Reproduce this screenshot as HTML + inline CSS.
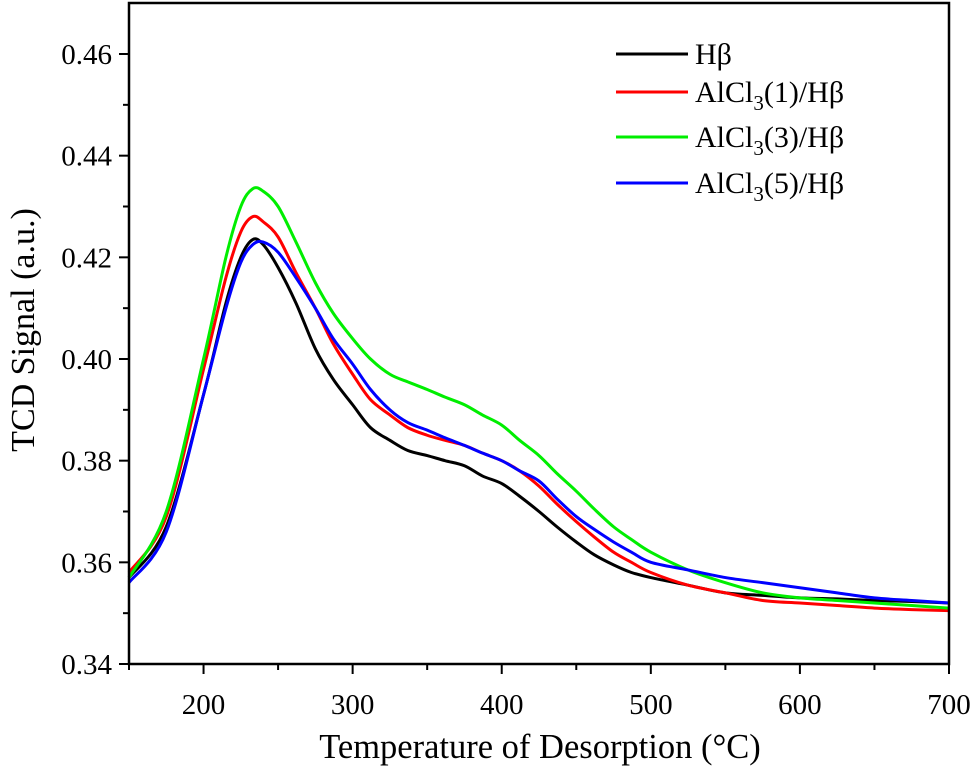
<!DOCTYPE html>
<html><head><meta charset="utf-8"><style>
body{margin:0;background:#fff;}
svg text{font-family:"Liberation Serif",serif;fill:#000;}
</style></head><body>
<svg id="c" width="975" height="773"></svg>
<script>
const temps=[150,175,200,215,225,233,240,250,262,275,287,300,312,325,337,350,362,375,387,400,412,425,437,450,462,475,487,500,525,550,575,600,625,650,675,700];
const hb=[0.357,0.367,0.393,0.411,0.420,0.4235,0.4225,0.418,0.411,0.402,0.396,0.391,0.3865,0.384,0.382,0.381,0.380,0.379,0.377,0.3755,0.373,0.370,0.367,0.364,0.3615,0.3595,0.358,0.357,0.3555,0.354,0.3535,0.353,0.3528,0.3525,0.3523,0.352];
const al1=[0.358,0.369,0.398,0.416,0.425,0.428,0.427,0.424,0.417,0.41,0.403,0.397,0.392,0.389,0.3865,0.385,0.384,0.383,0.3815,0.380,0.378,0.375,0.3715,0.368,0.365,0.362,0.360,0.358,0.3555,0.354,0.3525,0.352,0.3515,0.351,0.3507,0.3505];
const al3=[0.357,0.370,0.400,0.420,0.430,0.4335,0.433,0.430,0.423,0.415,0.409,0.404,0.4,0.397,0.3955,0.394,0.3925,0.391,0.389,0.387,0.384,0.381,0.3775,0.374,0.3705,0.367,0.3645,0.362,0.3585,0.356,0.354,0.353,0.3525,0.352,0.3515,0.351];
const al5=[0.356,0.366,0.393,0.410,0.419,0.4225,0.423,0.421,0.416,0.410,0.404,0.399,0.394,0.390,0.3875,0.386,0.3845,0.383,0.3815,0.380,0.378,0.376,0.3725,0.369,0.3665,0.364,0.362,0.360,0.3585,0.357,0.356,0.355,0.354,0.353,0.3525,0.352];
const xTicks=[200,300,400,500,600,700];
const yTicks=[0.34,0.36,0.38,0.40,0.42,0.44,0.46];
const names=["Hβ","AlCl3(1)/Hβ","AlCl3(3)/Hβ","AlCl3(5)/Hβ"];
const NS="http://www.w3.org/2000/svg";
const svg=document.getElementById('c');
const X0=129,X1=949,Y0=664,Y1=54;
const xs=v=>X0+(v-150)/(700-150)*(X1-X0);
const ys=v=>Y0-(v-0.34)/(0.46-0.34)*(Y0-Y1);
function mk(t,a){const e=document.createElementNS(NS,t);for(const k in a)e.setAttribute(k,a[k]);svg.appendChild(e);return e;}
function path(xv,yv){let p=xv.map((x,i)=>[xs(x),ys(yv[i])]);let d="M"+p[0][0]+","+p[0][1];
for(let i=0;i<p.length-1;i++){const a=p[Math.max(0,i-1)],b=p[i],c=p[i+1],e=p[Math.min(p.length-1,i+2)];
d+=` C${b[0]+(c[0]-a[0])/6},${b[1]+(c[1]-a[1])/6} ${c[0]-(e[0]-b[0])/6},${c[1]-(e[1]-b[1])/6} ${c[0]},${c[1]}`;}return d;}
const series=[[hb,"#000000"],[al1,"#ff0000"],[al3,"#00ee00"],[al5,"#0000ff"]];
const sn=["series-hbeta","series-alcl3-1","series-alcl3-3","series-alcl3-5"];
series.forEach((s,i)=>{const e=mk('path',{d:path(temps,s[0]),fill:'none',stroke:s[1],'stroke-width':3});

});
const f=mk('rect',{x:X0,y:3,width:X1-X0,height:Y0-3,fill:'none',stroke:'#000','stroke-width':2.5});


for(let v=150;v<=700;v+=50){const x=xs(v);const maj=v%100==0;mk('line',{x1:x,x2:x,y1:Y0,y2:Y0+(maj?10:6),stroke:'#000','stroke-width':2});}
xTicks.forEach(v=>{const t=mk('text',{x:xs(v),y:Y0+50,'font-size':29,'text-anchor':'middle'});t.textContent=v;

});
for(let k=0;k<=12;k++){const v=0.34+k*0.01;const y=ys(v);mk('line',{x1:X0,x2:X0-(k%2==0?10:6),y1:y,y2:y,stroke:'#000','stroke-width':2});}
yTicks.forEach(v=>{const t=mk('text',{x:X0-17,y:ys(v)+10,'font-size':29,'text-anchor':'end'});t.textContent=v.toFixed(2);

});
const xt=mk('text',{x:540,y:758,'font-size':34.5,'text-anchor':'middle'});xt.textContent="Temperature of Desorption (°C)";


const yt=mk('text',{x:0,y:0,'font-size':34,'text-anchor':'middle',transform:'translate(34,330) rotate(-90)'});yt.textContent="TCD Signal (a.u.)";


const ly=[54,92,137,183];
names.forEach((n,i)=>{const l=mk('line',{x1:616,x2:688,y1:ly[i],y2:ly[i],stroke:series[i][1],'stroke-width':3});


const t=mk('text',{x:695,y:ly[i]+10,'font-size':30});


if(n.startsWith("AlCl3")){t.innerHTML='AlCl<tspan dy="8" font-size="21">3</tspan><tspan dy="-8">'+n.slice(5)+'</tspan>';}else t.textContent=n;});
</script>
</body></html>
